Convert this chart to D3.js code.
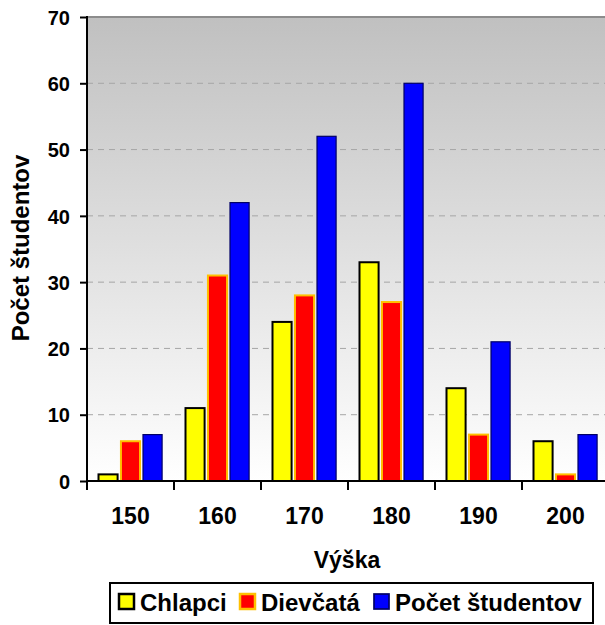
<!DOCTYPE html>
<html>
<head>
<meta charset="utf-8">
<script src="https://cdnjs.cloudflare.com/ajax/libs/d3/7.8.5/d3.min.js"></script>
<style>
  body { margin: 0; background: #fff; }
  svg text { font-family: "Liberation Sans", Arial, sans-serif; font-weight: bold; fill: #000; }
</style>
</head>
<body>
<div id="chart"></div>
<script>
const categories = ["150", "160", "170", "180", "190", "200"];
const seriesNames = ["Chlapci", "Dievčatá", "Počet študentov"];
const chlapci = [1, 11, 24, 33, 14, 6];
const dievcata = [6, 31, 28, 27, 7, 1];
const pocet = [7, 42, 52, 60, 21, 7];
const yTicks = [0, 10, 20, 30, 40, 50, 60, 70];

const w = 605;
const h = 625;
const plotLeft = 87, plotTop = 17, plotBottom = 481;
const catW = 87;

const fills = ["#ffff00", "#ff0000", "#0000ff"];
const strokes = ["#000000", "#ffc000", "#000066"];
const strokeW = [2, 2, 1.2];

const seriesData = [chlapci, dievcata, pocet];

const svg = d3.select("#chart").append("svg")
  .attr("width", w)
  .attr("height", h);

const defs = svg.append("defs");
const grad = defs.append("linearGradient")
  .attr("id", "bg")
  .attr("x1", 0).attr("y1", 0).attr("x2", 0).attr("y2", 1);
grad.append("stop").attr("offset", "0%").attr("stop-color", "#c0c0c0");
grad.append("stop").attr("offset", "100%").attr("stop-color", "#ffffff");

const xScale = d3.scaleBand()
  .domain(categories)
  .range([plotLeft, plotLeft + catW * categories.length])
  .padding(0);

const xInner = d3.scaleBand()
  .domain(d3.range(seriesNames.length))
  .range([10.5, catW - 10.5])
  .paddingInner(0.06);

const yScale = d3.scaleLinear()
  .domain([0, 70])
  .range([plotBottom, plotTop]);

// plot background
svg.append("rect")
  .attr("x", plotLeft)
  .attr("y", plotTop)
  .attr("width", w - plotLeft)
  .attr("height", plotBottom - plotTop)
  .attr("fill", "url(#bg)");

svg.append("line")
  .attr("x1", plotLeft).attr("x2", w)
  .attr("y1", plotTop).attr("y2", plotTop)
  .attr("stroke", "#8c8c8c")
  .attr("stroke-width", 2);

// gridlines
svg.append("g")
  .selectAll("line")
  .data(yTicks.filter(d => d > 0 && d < 70))
  .enter()
  .append("line")
  .attr("x1", plotLeft).attr("x2", w)
  .attr("y1", d => yScale(d)).attr("y2", d => yScale(d))
  .attr("stroke", "#a6a6a6")
  .attr("stroke-width", 1)
  .attr("stroke-dasharray", "6,5");

// bars
const groups = svg.append("g")
  .selectAll("g")
  .data(categories)
  .enter()
  .append("g")
  .attr("transform", d => "translate(" + xScale(d) + ",0)");

groups.selectAll("rect")
  .data((d, i) => seriesData.map((s, k) => ({ k: k, v: s[i] })))
  .enter()
  .append("rect")
  .attr("x", d => xInner(d.k) + strokeW[d.k] / 2)
  .attr("y", d => yScale(d.v))
  .attr("width", xInner.bandwidth() - strokeW[0])
  .attr("height", d => plotBottom - yScale(d.v))
  .attr("fill", d => fills[d.k])
  .attr("stroke", d => strokes[d.k])
  .attr("stroke-width", d => strokeW[d.k]);

// y axis
const yAxis = d3.axisLeft(yScale)
  .tickValues(yTicks)
  .tickSize(7)
  .tickPadding(10);

const yG = svg.append("g")
  .attr("transform", "translate(" + plotLeft + ",0)")
  .call(yAxis);
yG.select(".domain").remove();
yG.selectAll(".tick line").attr("stroke", "#000").attr("stroke-width", 2);
yG.selectAll(".tick text")
  .style("font-size", "20px")
  .attr("dy", "0.36em");
yG.append("line")
  .attr("x1", 0).attr("x2", 0)
  .attr("y1", plotTop - 1).attr("y2", plotBottom + 1)
  .attr("stroke", "#000").attr("stroke-width", 2);

// x axis
const xAxis = d3.axisBottom(xScale)
  .tickSize(0)
  .tickPadding(27);

const xG = svg.append("g")
  .attr("transform", "translate(0," + plotBottom + ")")
  .call(xAxis);
xG.select(".domain").remove();
xG.selectAll(".tick text").style("font-size", "23px");
xG.append("line")
  .attr("x1", plotLeft - 1).attr("x2", w)
  .attr("y1", 0).attr("y2", 0)
  .attr("stroke", "#000").attr("stroke-width", 2);
xG.selectAll(".sep")
  .data(categories)
  .enter()
  .append("line")
  .attr("class", "sep")
  .attr("x1", d => xScale(d)).attr("x2", d => xScale(d))
  .attr("y1", 0).attr("y2", 9)
  .attr("stroke", "#000").attr("stroke-width", 2);

// axis titles
svg.append("text")
  .attr("x", 347)
  .attr("y", 568)
  .attr("text-anchor", "middle")
  .style("font-size", "23px")
  .text("Výška");

svg.append("text")
  .attr("transform", "translate(29,248) rotate(-90)")
  .attr("text-anchor", "middle")
  .style("font-size", "24px")
  .text("Počet študentov");

// legend
const legend = svg.append("g");
legend.append("rect")
  .attr("x", 110).attr("y", 583)
  .attr("width", 483).attr("height", 40)
  .attr("fill", "#fff")
  .attr("stroke", "#000")
  .attr("stroke-width", 2);

const legX = [119, 240, 374];
const items = legend.selectAll(".item")
  .data(seriesNames)
  .enter()
  .append("g")
  .attr("class", "item")
  .attr("transform", (d, i) => "translate(" + legX[i] + ",594)");

items.append("rect")
  .attr("x", 0).attr("y", 0)
  .attr("width", 15).attr("height", 15)
  .attr("fill", (d, i) => fills[i])
  .attr("stroke", (d, i) => strokes[i])
  .attr("stroke-width", (d, i) => strokeW[i] + 0.5);

items.append("text")
  .attr("x", 21)
  .attr("y", 17)
  .style("font-size", "24px")
  .text(d => d);
</script>
</body>
</html>
